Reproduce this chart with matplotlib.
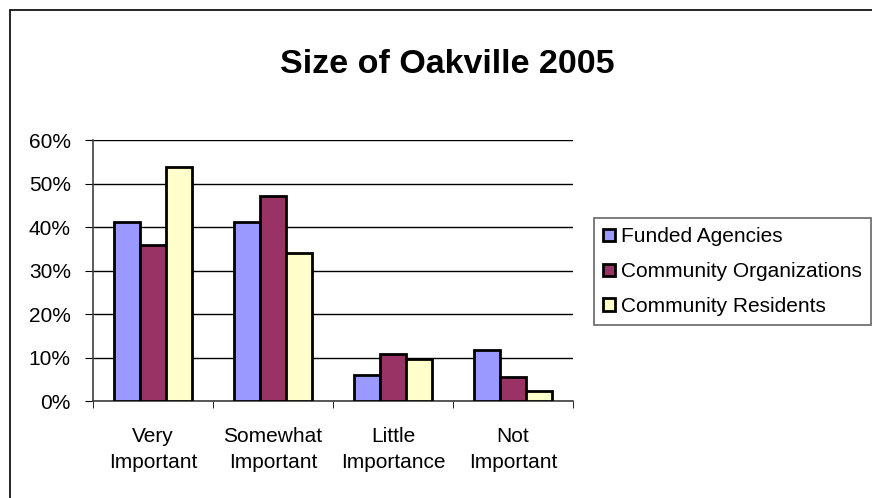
import matplotlib
matplotlib.use("Agg")
import matplotlib.pyplot as plt
import numpy as np
from matplotlib.ticker import PercentFormatter

categories = ["Very\nImportant", "Somewhat\nImportant", "Little\nImportance", "Not\nImportant"]
series_names = ["Funded Agencies", "Community Organizations", "Community Residents"]
funded = [41.2, 41.2, 5.9, 11.7]
organizations = [35.9, 47.2, 10.9, 5.5]
residents = [53.8, 34.0, 9.6, 2.2]
colors = ["#9999ff", "#993366", "#ffffcc"]

plt.rcParams["font.family"] = ["Liberation Sans", "DejaVu Sans"]

W, H = 872, 498
fig = plt.figure(figsize=(W / 100, H / 100), dpi=100)
ax = fig.add_axes([93 / W, 1 - 401 / H, 480 / W, 261 / H])

x = np.arange(len(categories))
width = 0.217
for i, (vals, name) in enumerate(zip([funded, organizations, residents], series_names)):
    ax.bar(x + (i - 1) * width, vals, width, color=colors[i], edgecolor="black",
           linewidth=2, label=name, zorder=3)

ax.set_xlim(-0.5, len(categories) - 0.5)
ax.set_ylim(0, 60)
ax.set_yticks(range(0, 61, 10))
ax.yaxis.set_major_formatter(PercentFormatter(decimals=0))
ax.grid(axis="y", color="black", linewidth=1, zorder=0)
ax.set_xticks(x)
ax.set_xticklabels(categories, fontsize=15, linespacing=1.45)
ax.set_xticks(np.arange(-0.5, len(categories)), minor=True)
ax.tick_params(axis="x", which="major", length=0, pad=19)
ax.tick_params(axis="x", which="minor", length=5, direction="out", color="black")
ax.tick_params(axis="y", length=6, direction="out", labelsize=15, pad=10)
for side in ["top", "right"]:
    ax.spines[side].set_visible(False)
for side in ["left", "bottom"]:
    ax.spines[side].set_color("#404040")
    ax.spines[side].set_linewidth(1.2)

fig.text(447 / W, 1 - 73 / H, "Size of Oakville 2005", ha="center", va="baseline",
         fontsize=24.5, fontweight="bold")

leg = ax.legend(loc="upper left", bbox_to_anchor=(594 / W, 1 - 218 / H),
                bbox_transform=fig.transFigure,
                fontsize=15, frameon=True, fancybox=False, edgecolor="#404040",
                handlelength=0.55, handleheight=0.55, handletextpad=0.3,
                borderpad=0.45, labelspacing=0.76, borderaxespad=0)
leg.get_frame().set_linewidth(1.2)
for h in leg.legend_handles:
    h.set_linewidth(2)

# chart border, open on the right and bottom edges
fig.patches.append(plt.Rectangle((10 / W, -0.05), 1.1, 1 - 10 / H + 0.05,
                                 transform=fig.transFigure, fill=False,
                                 edgecolor="black", linewidth=1.2))

fig.savefig("out.png", dpi=100)
